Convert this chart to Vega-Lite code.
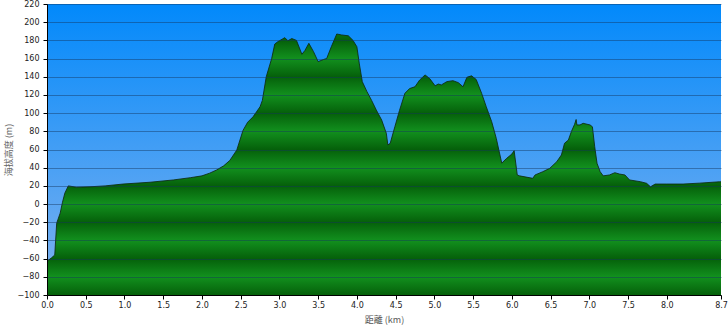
{
  "$schema": "https://vega.github.io/schema/vega-lite/v6.json",
  "width": 674,
  "height": 291,
  "autosize": {"type": "none"},
  "padding": {"left": 47, "top": 4, "right": 7, "bottom": 35},
  "background": "white",
  "config": {"view": {"stroke": null}, "font": "DejaVu Sans"},
  "data": {"values": [
    {"km": 0.00, "m": -63}, {"km": 0.06, "m": -59}, {"km": 0.10, "m": -56}, {"km": 0.125, "m": -21},
    {"km": 0.17, "m": -10}, {"km": 0.20, "m": 2}, {"km": 0.23, "m": 12}, {"km": 0.275, "m": 20},
    {"km": 0.38, "m": 18.5}, {"km": 0.555, "m": 19}, {"km": 0.75, "m": 20}, {"km": 0.98, "m": 22},
    {"km": 1.33, "m": 24}, {"km": 1.63, "m": 26.5}, {"km": 1.85, "m": 29}, {"km": 2.00, "m": 31},
    {"km": 2.10, "m": 34}, {"km": 2.19, "m": 37.5}, {"km": 2.28, "m": 42}, {"km": 2.36, "m": 48},
    {"km": 2.45, "m": 59.5}, {"km": 2.53, "m": 81}, {"km": 2.59, "m": 90}, {"km": 2.66, "m": 96},
    {"km": 2.75, "m": 107}, {"km": 2.78, "m": 114}, {"km": 2.83, "m": 140}, {"km": 2.90, "m": 160},
    {"km": 2.94, "m": 176}, {"km": 2.98, "m": 178.6}, {"km": 3.07, "m": 183}, {"km": 3.11, "m": 179.6},
    {"km": 3.16, "m": 182}, {"km": 3.22, "m": 180}, {"km": 3.29, "m": 164.7}, {"km": 3.33, "m": 169},
    {"km": 3.38, "m": 176.8}, {"km": 3.44, "m": 167.6}, {"km": 3.50, "m": 156.6}, {"km": 3.57, "m": 159},
    {"km": 3.61, "m": 160}, {"km": 3.67, "m": 173}, {"km": 3.74, "m": 187}, {"km": 3.80, "m": 186},
    {"km": 3.89, "m": 185}, {"km": 3.95, "m": 180}, {"km": 4.00, "m": 173}, {"km": 4.03, "m": 155},
    {"km": 4.07, "m": 134.6}, {"km": 4.13, "m": 123.6}, {"km": 4.19, "m": 114}, {"km": 4.25, "m": 103.5},
    {"km": 4.32, "m": 92.4}, {"km": 4.38, "m": 77.8}, {"km": 4.40, "m": 65}, {"km": 4.43, "m": 66.8},
    {"km": 4.49, "m": 85}, {"km": 4.55, "m": 103}, {"km": 4.62, "m": 121.8}, {"km": 4.68, "m": 127},
    {"km": 4.75, "m": 129}, {"km": 4.81, "m": 136.4}, {"km": 4.88, "m": 142}, {"km": 4.94, "m": 138},
    {"km": 5.01, "m": 130}, {"km": 5.05, "m": 132}, {"km": 5.09, "m": 131}, {"km": 5.16, "m": 134.6},
    {"km": 5.24, "m": 135.7}, {"km": 5.31, "m": 133.5}, {"km": 5.37, "m": 129}, {"km": 5.42, "m": 139.4},
    {"km": 5.48, "m": 141}, {"km": 5.54, "m": 137}, {"km": 5.61, "m": 121.8}, {"km": 5.67, "m": 107},
    {"km": 5.74, "m": 90.6}, {"km": 5.80, "m": 72}, {"km": 5.87, "m": 45}, {"km": 5.93, "m": 50},
    {"km": 6.00, "m": 55}, {"km": 6.03, "m": 58.7}, {"km": 6.07, "m": 32}, {"km": 6.10, "m": 31},
    {"km": 6.27, "m": 28.3}, {"km": 6.30, "m": 32}, {"km": 6.40, "m": 35.6}, {"km": 6.49, "m": 39.3},
    {"km": 6.58, "m": 46.6}, {"km": 6.64, "m": 54}, {"km": 6.68, "m": 66.8}, {"km": 6.73, "m": 70.4},
    {"km": 6.77, "m": 80}, {"km": 6.81, "m": 87.7}, {"km": 6.83, "m": 93}, {"km": 6.84, "m": 87},
    {"km": 6.88, "m": 87}, {"km": 6.92, "m": 88.8}, {"km": 7.01, "m": 87}, {"km": 7.04, "m": 85},
    {"km": 7.07, "m": 63}, {"km": 7.10, "m": 44.8}, {"km": 7.14, "m": 35.6}, {"km": 7.18, "m": 31},
    {"km": 7.26, "m": 32}, {"km": 7.33, "m": 34.5}, {"km": 7.39, "m": 33}, {"km": 7.46, "m": 32},
    {"km": 7.52, "m": 26.5}, {"km": 7.66, "m": 24.6}, {"km": 7.74, "m": 22.8}, {"km": 7.79, "m": 19},
    {"km": 7.85, "m": 22}, {"km": 8.00, "m": 22}, {"km": 8.21, "m": 22}, {"km": 8.42, "m": 23},
    {"km": 8.68, "m": 24.5}, {"km": 8.70, "m": 24.5}
  ]},
  "layer": [
    {
      "data": {"values": [{}]},
      "mark": {
        "type": "rect",
        "color": {
          "gradient": "linear", "x1": 0, "y1": 0, "x2": 0, "y2": 1,
          "stops": [
            {"offset": 0, "color": "#05600a"}, {"offset": 0.0625, "color": "#12901e"},
            {"offset": 0.125, "color": "#05600a"}, {"offset": 0.1875, "color": "#12901e"},
            {"offset": 0.25, "color": "#05600a"}, {"offset": 0.3125, "color": "#12901e"},
            {"offset": 0.375, "color": "#05600a"}, {"offset": 0.4375, "color": "#12901e"},
            {"offset": 0.5, "color": "#05600a"}, {"offset": 0.5625, "color": "#12901e"},
            {"offset": 0.625, "color": "#05600a"}, {"offset": 0.6875, "color": "#12901e"},
            {"offset": 0.75, "color": "#05600a"}, {"offset": 0.8125, "color": "#12901e"},
            {"offset": 0.875, "color": "#05600a"}, {"offset": 0.9375, "color": "#12901e"},
            {"offset": 1, "color": "#05600a"}
          ]
        }
      },
      "encoding": {
        "x": {
          "datum": 0, "type": "quantitative",
          "scale": {"domain": [0, 8.7], "nice": false, "zero": false},
          "axis": {
            "title": "距離  (km)",
            "values": [0, 0.5, 1, 1.5, 2, 2.5, 3, 3.5, 4, 4.5, 5, 5.5, 6, 6.5, 7, 7.5, 8, 8.7],
            "format": ".1f", "grid": false, "domainColor": "#000", "tickColor": "#000",
            "tickSize": 4, "labelPadding": 2, "labelFontSize": 8, "labelColor": "#222",
            "labelFlush": false, "titleFont": "Noto Sans CJK TC", "titleFontSize": 9,
            "titleFontWeight": "normal", "titleColor": "#555", "titlePadding": 6, "zindex": 1
          }
        },
        "x2": {"datum": 8.7},
        "y": {
          "datum": -100, "type": "quantitative",
          "scale": {"domain": [-100, 220], "nice": false, "zero": false},
          "axis": {
            "title": "海拔高度 (m)",
            "values": [-100, -80, -60, -40, -20, 0, 20, 40, 60, 80, 100, 120, 140, 160, 180, 200, 220],
            "grid": true, "gridColor": "#14365e", "gridOpacity": 0.45,
            "domainColor": "#000", "tickColor": "#000", "tickSize": 4, "labelPadding": 4,
            "labelFontSize": 8, "labelColor": "#222",
            "titleFont": "Noto Sans CJK TC", "titleFontSize": 9, "titleFontWeight": "normal",
            "titleColor": "#666", "titlePadding": 4, "zindex": 1
          }
        },
        "y2": {"datum": 220}
      }
    },
    {
      "mark": {
        "type": "area",
        "color": {
          "gradient": "linear", "x1": 0, "y1": 0, "x2": 0, "y2": 1,
          "stops": [
            {"offset": 0, "color": "#0289fb"},
            {"offset": 1, "color": "#74aef0"}
          ]
        }
      },
      "encoding": {
        "x": {
          "field": "km", "type": "quantitative",
          "axis": {
            "title": "距離  (km)",
            "values": [0, 0.5, 1, 1.5, 2, 2.5, 3, 3.5, 4, 4.5, 5, 5.5, 6, 6.5, 7, 7.5, 8, 8.7],
            "format": ".1f", "grid": false, "domainColor": "#000", "tickColor": "#000",
            "tickSize": 4, "labelPadding": 2, "labelFontSize": 8, "labelColor": "#222",
            "labelFlush": false, "titleFont": "Noto Sans CJK TC", "titleFontSize": 9,
            "titleFontWeight": "normal", "titleColor": "#555", "titlePadding": 6, "zindex": 1
          }
        },
        "y": {
          "field": "m", "type": "quantitative",
          "axis": {
            "title": "海拔高度 (m)",
            "values": [-100, -80, -60, -40, -20, 0, 20, 40, 60, 80, 100, 120, 140, 160, 180, 200, 220],
            "grid": true, "gridColor": "#14365e", "gridOpacity": 0.45,
            "domainColor": "#000", "tickColor": "#000", "tickSize": 4, "labelPadding": 4,
            "labelFontSize": 8, "labelColor": "#222",
            "titleFont": "Noto Sans CJK TC", "titleFontSize": 9, "titleFontWeight": "normal",
            "titleColor": "#666", "titlePadding": 4, "zindex": 1
          }
        },
        "y2": {"datum": 220}
      }
    },
    {
      "mark": {"type": "line", "color": "#0d2a10", "strokeWidth": 1, "opacity": 0.85},
      "encoding": {
        "x": {
          "field": "km", "type": "quantitative",
          "axis": {
            "title": "距離  (km)",
            "values": [0, 0.5, 1, 1.5, 2, 2.5, 3, 3.5, 4, 4.5, 5, 5.5, 6, 6.5, 7, 7.5, 8, 8.7],
            "format": ".1f", "grid": false, "domainColor": "#000", "tickColor": "#000",
            "tickSize": 4, "labelPadding": 2, "labelFontSize": 8, "labelColor": "#222",
            "labelFlush": false, "titleFont": "Noto Sans CJK TC", "titleFontSize": 9,
            "titleFontWeight": "normal", "titleColor": "#555", "titlePadding": 6, "zindex": 1
          }
        },
        "y": {
          "field": "m", "type": "quantitative",
          "axis": {
            "title": "海拔高度 (m)",
            "values": [-100, -80, -60, -40, -20, 0, 20, 40, 60, 80, 100, 120, 140, 160, 180, 200, 220],
            "grid": true, "gridColor": "#14365e", "gridOpacity": 0.45,
            "domainColor": "#000", "tickColor": "#000", "tickSize": 4, "labelPadding": 4,
            "labelFontSize": 8, "labelColor": "#222",
            "titleFont": "Noto Sans CJK TC", "titleFontSize": 9, "titleFontWeight": "normal",
            "titleColor": "#666", "titlePadding": 4, "zindex": 1
          }
        }
      }
    }
  ]
}
